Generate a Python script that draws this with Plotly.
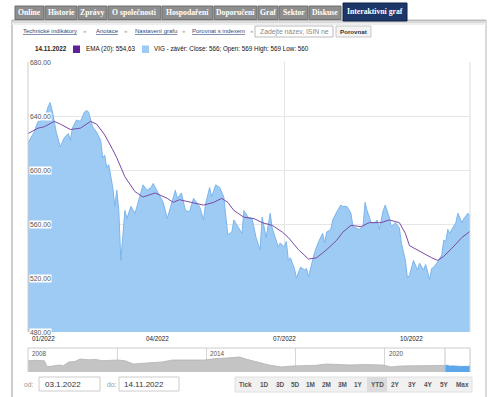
import plotly.graph_objects as go

# ---------------- data ----------------
close_dates = [
    "2022-01-03", "2022-01-06", "2022-01-10", "2022-01-13", "2022-01-17", "2022-01-18", "2022-01-19", "2022-01-21",
    "2022-01-25", "2022-01-27", "2022-01-31", "2022-02-01", "2022-02-02", "2022-02-04", "2022-02-08", "2022-02-10",
    "2022-02-11", "2022-02-14", "2022-02-16", "2022-02-18", "2022-02-22", "2022-02-23", "2022-02-24", "2022-02-25",
    "2022-02-28", "2022-03-02", "2022-03-03", "2022-03-04", "2022-03-07", "2022-03-08", "2022-03-10", "2022-03-11",
    "2022-03-15", "2022-03-17", "2022-03-18", "2022-03-23", "2022-03-25", "2022-03-29", "2022-03-30", "2022-04-01",
    "2022-04-05", "2022-04-06", "2022-04-08", "2022-04-12", "2022-04-13", "2022-04-14", "2022-04-19", "2022-04-21",
    "2022-04-25", "2022-04-27", "2022-04-29", "2022-05-03", "2022-05-04", "2022-05-06", "2022-05-09", "2022-05-11",
    "2022-05-12", "2022-05-16", "2022-05-18", "2022-05-20", "2022-05-23", "2022-05-24", "2022-05-26", "2022-05-27",
    "2022-05-31", "2022-06-02", "2022-06-03", "2022-06-07", "2022-06-09", "2022-06-13", "2022-06-15", "2022-06-16",
    "2022-06-20", "2022-06-21", "2022-06-22", "2022-06-23", "2022-06-27", "2022-06-28", "2022-06-29", "2022-07-01",
    "2022-07-04", "2022-07-07", "2022-07-08", "2022-07-12", "2022-07-13", "2022-07-15", "2022-07-19", "2022-07-20",
    "2022-07-21", "2022-07-25", "2022-07-26", "2022-07-28", "2022-08-01", "2022-08-02", "2022-08-03", "2022-08-05",
    "2022-08-08", "2022-08-10", "2022-08-12", "2022-08-15", "2022-08-17", "2022-08-19", "2022-08-22", "2022-08-25",
    "2022-08-29", "2022-08-30", "2022-08-31", "2022-09-02", "2022-09-06", "2022-09-07", "2022-09-08", "2022-09-12",
    "2022-09-13", "2022-09-15", "2022-09-16", "2022-09-20", "2022-09-22", "2022-09-23", "2022-09-27", "2022-09-29",
    "2022-09-30", "2022-10-04", "2022-10-06", "2022-10-07", "2022-10-11", "2022-10-12", "2022-10-14", "2022-10-17",
    "2022-10-18", "2022-10-20", "2022-10-24", "2022-10-25", "2022-10-26", "2022-10-27", "2022-10-31", "2022-11-01",
    "2022-11-03", "2022-11-04", "2022-11-08", "2022-11-09", "2022-11-11", "2022-11-14",
]
close_vals = [
    620, 628, 636, 637, 647, 650, 644, 628,
    617, 624, 627, 622, 631, 637, 636, 643,
    644, 643, 632, 628, 622, 609, 611, 602,
    604, 587, 573, 585, 570, 533, 570, 564,
    573, 568, 573, 589, 585, 587, 590, 584,
    578, 576, 564, 575, 580, 585, 579, 583,
    570, 569, 579, 575, 573, 563, 575, 587,
    580, 589, 587, 580, 563, 552, 554, 563,
    558, 553, 570, 565, 564, 550, 541, 565,
    550, 561, 568, 557, 547, 543, 546, 543,
    547, 533, 535, 527, 520, 528, 526, 527,
    521, 532, 539, 547, 553, 546, 554, 556,
    563, 569, 574, 573, 573, 568, 558, 556,
    558, 576, 570, 561, 561, 563, 556, 570,
    574, 565, 558, 561, 557, 546, 533, 520,
    522, 533, 526, 531, 526, 530, 519, 527,
    528, 532, 537, 548, 547, 556, 553, 556,
    561, 568, 561, 564, 568, 566,
]

ema_dates = [
    "2022-01-03", "2022-01-10", "2022-01-13", "2022-01-20", "2022-01-25", "2022-02-01", "2022-02-08", "2022-02-15",
    "2022-02-18", "2022-02-24", "2022-03-02", "2022-03-04", "2022-03-10", "2022-03-17", "2022-03-23", "2022-03-31",
    "2022-04-08", "2022-04-13", "2022-04-20", "2022-04-28", "2022-05-06", "2022-05-13", "2022-05-19", "2022-05-24",
    "2022-05-27", "2022-05-31", "2022-06-03", "2022-06-10", "2022-06-16", "2022-06-23", "2022-06-30", "2022-07-07",
    "2022-07-14", "2022-07-21", "2022-07-27", "2022-08-03", "2022-08-10", "2022-08-15", "2022-08-19", "2022-08-26",
    "2022-09-01", "2022-09-09", "2022-09-15", "2022-09-22", "2022-09-27", "2022-09-30", "2022-10-10", "2022-10-17",
    "2022-10-20", "2022-10-25", "2022-11-01", "2022-11-08", "2022-11-14",
]
ema_vals = [
    627, 631, 632, 636, 634, 630, 631, 636,
    634, 626, 615, 609, 595, 584, 580, 583,
    579, 576, 578, 576, 574, 576, 579, 576,
    570, 568, 565, 564, 561, 559, 554, 550,
    541, 534, 535, 541, 548, 554, 559, 558,
    561, 561, 563, 561, 553, 544, 539, 535,
    533, 536, 542, 550, 554.63,
]

nav_dates = [
    "2008-01-01", "2008-04-01", "2008-07-20", "2008-08-25", "2008-11-01", "2009-01-15", "2009-03-10", "2009-05-15",
    "2009-08-01", "2009-10-01", "2010-01-10", "2010-04-10", "2010-07-10", "2010-10-10", "2011-01-10", "2011-04-10",
    "2011-07-20", "2011-10-10", "2012-03-10", "2012-07-10", "2012-11-10", "2013-03-10", "2013-07-10", "2013-12-10",
    "2014-04-10", "2014-09-10", "2015-02-10", "2015-05-10", "2015-08-10", "2015-11-10", "2016-02-10", "2016-07-10",
    "2016-11-10", "2017-04-10", "2017-09-10", "2018-01-10", "2018-06-10", "2018-11-10", "2019-04-10", "2019-08-10",
    "2019-12-10", "2020-03-20", "2020-07-10", "2020-12-10", "2021-05-10", "2021-12-10", "2022-01-03",
]
nav_vals = [
    1060, 1100, 1060, 500, 560, 660, 600, 940,
    1000, 1220, 1150, 1180, 1060, 1100, 1130, 1050,
    750, 800, 850, 950, 1130, 1100, 1130, 1130,
    1250, 1320, 1410, 1200, 1030, 900, 660, 470,
    560, 600, 630, 750, 700, 660, 700, 650,
    660, 470, 560, 580, 590, 660, 620,
]

y_ticks = [480, 520, 560, 600, 640, 680]
x_tick_dates = ["2022-01-03", "2022-04-01", "2022-07-01", "2022-10-03"]
x_tick_text = ["01/2022", "04/2022", "07/2022", "10/2022"]
nav_grid_dates = ["2011-01-01", "2014-01-01", "2017-01-01", "2020-01-01"]
nav_label_dates = ["2008-01-01", "2014-01-01", "2020-01-01"]
nav_label_text = ["2008", "2014", "2020"]
holidays = ["2022-04-15", "2022-04-18", "2022-07-05", "2022-07-06", "2022-09-28", "2022-10-28"]

tab_names = ["Online", "Historie", "Zprávy", "O společnosti", "Hospodaření", "Doporučení",
             "Graf", "Sektor", "Diskuse", "Interaktivní graf"]
range_names = ["Tick", "1D", "3D", "5D", "1M", "2M", "3M", "1Y", "YTD", "2Y", "3Y", "4Y", "5Y", "Max"]

# ---------------- layout helpers (pixel -> paper) ----------------
W, H = 500, 397
def X(p):
    return p / W
def Y(p):
    return 1 - p / H

FONT = "Liberation Sans"
shapes = []
annotations = []

def rect(x0, y0, x1, y1, fill, line="rgba(0,0,0,0)", lw=1):
    shapes.append(dict(type="rect", xref="paper", yref="paper", x0=X(x0), x1=X(x1), y0=Y(y1), y1=Y(y0),
                       fillcolor=fill, line=dict(color=line, width=lw), layer="above"))

def hline(x0, x1, y, color, lw=1):
    shapes.append(dict(type="line", xref="paper", yref="paper", x0=X(x0), x1=X(x1), y0=Y(y), y1=Y(y),
                       line=dict(color=color, width=lw), layer="above"))

def vline(x, y0, y1, color, lw=1):
    shapes.append(dict(type="line", xref="paper", yref="paper", x0=X(x), x1=X(x), y0=Y(y0), y1=Y(y1),
                       line=dict(color=color, width=lw), layer="above"))

def text(x, y, s, size=6.5, color="#222", anchor="left", family=FONT):
    annotations.append(dict(xref="paper", yref="paper", x=X(x), y=Y(y), text=s, showarrow=False,
                            xanchor=anchor, yanchor="middle", font=dict(size=size, color=color, family=family)))

# ---------------- traces ----------------
fig = go.Figure()
fig.add_trace(go.Scatter(x=close_dates, y=close_vals, mode="lines", xaxis="x", yaxis="y",
                         line=dict(color="#7cb5ec", width=1), fill="tozeroy", fillcolor="#9dcbf4",
                         hoverinfo="skip"))
fig.add_trace(go.Scatter(x=ema_dates, y=ema_vals, mode="lines", xaxis="x", yaxis="y",
                         line=dict(color="#7b4aa6", width=1), hoverinfo="skip"))
fig.add_trace(go.Scatter(x=nav_dates, y=nav_vals, mode="lines", xaxis="x2", yaxis="y2",
                         line=dict(color="#b3b3b3", width=0.8), fill="tozeroy", fillcolor="#c4c4c4",
                         hoverinfo="skip"))
fig.add_trace(go.Scatter(x=close_dates, y=close_vals, mode="lines", xaxis="x2", yaxis="y2",
                         line=dict(color="#4f9de4", width=0.8), fill="tozeroy", fillcolor="#5ba7ea",
                         hoverinfo="skip"))

# ---------------- page decoration ----------------
# content box
vline(12, 20, 397, "#9a9a9a")
vline(486, 20, 397, "#b5b5b5")
rect(12, 19.5, 486, 21, "#bdbdbd")
rect(12, 21, 486, 23, "#dadada")
rect(12, 23, 486, 25, "#eeeeee")

# tabs
tab_edges = [(15, 44), (45, 77), (78, 107), (108, 161), (162, 213), (214, 257),
             (258, 278), (279, 308), (309, 341), (343, 407)]
for name, (a, b) in zip(tab_names, tab_edges):
    if name == "Interaktivní graf":
        rect(a, 3, b, 21, "#1d3768", "#0f2247")
        text((a + b) / 2, 12, "<b>" + name + "</b>", 7.7, "white", "center", "Liberation Serif")
    else:
        rect(a, 6, b, 19.5, "#8e8e8e", "#6e6e6e")
        text((a + b) / 2, 12.8, "<b>" + name + "</b>", 7.7, "white", "center", "Liberation Serif")

# link row
links = [("Technické indikátory", 21, 81), ("Anotace", 94, 122), ("Nastavení grafu", 133, 180),
         ("Porovnat s indexem", 190, 248)]
for s, x0, xr in links:
    text(x0, 31, "<u>" + s + "</u>", 6, "#2d4a7a")
    text(xr, 31, "»", 6, "#999")
rect(255, 26, 333, 37, "white", "#bbbbbb")
text(258, 31.5, "Zadejte název, ISIN ne", 6.8, "#8a8a8a")
rect(336, 26, 371, 37, "#f3f3f3", "#c8c8c8")
text(353.5, 31.5, "<b>Porovnat</b>", 6.2, "#333", "center")

# legend row
text(33, 49, "<b>14.11.2022</b>", 6.3, "#222")
rect(73, 45.5, 80, 53, "#5e2196")
text(84, 49, "EMA (20): 554,63", 6.3, "#111")
rect(142, 45.5, 149, 53, "#9dcbf4")
text(152, 49, "VIG - závěr: Close: 566; Open: 569 High: 569 Low: 560", 6.3, "#111")

# plot frame
vline(28, 62, 332, "#cccccc")
vline(470, 62, 332, "#dddddd")

# y labels
for v in y_ticks:
    annotations.append(dict(xref="paper", yref="y", x=X(29), y=v, text=f"{v:.2f}", showarrow=False,
                            xanchor="left", yanchor="middle", bgcolor="white", borderpad=0,
                            font=dict(size=6.8, color="#555", family=FONT)))
# x labels
for i, (d, s) in enumerate(zip(x_tick_dates, x_tick_text)):
    annotations.append(dict(xref="x", yref="paper", x=d, y=Y(338), text=s, showarrow=False,
                            xanchor="left" if i == 0 else "center", xshift=2 if i == 0 else 0,
                            yanchor="middle", font=dict(size=6.3, color="#222", family=FONT)))

# navigator
hline(28, 470, 348, "#cccccc")
vline(28, 348, 372, "#d0d0d0")
vline(445, 348, 372, "#c8c8c8")
vline(470, 348, 372, "#c8c8c8")
for d, s in zip(nav_label_dates, nav_label_text):
    annotations.append(dict(xref="x2", yref="paper", x=d, y=Y(353.5), text=s, showarrow=False,
                            xanchor="left", xshift=2, yanchor="middle",
                            font=dict(size=6.3, color="#555", family=FONT)))

# bottom controls
text(22, 384, "od:", 6.8, "#999")
rect(39, 377, 100, 391, "white", "#cccccc")
text(43, 384, "03.1.2022", 8, "#333")
text(105, 384, "do:", 6.8, "#999")
rect(119, 377, 179, 391, "white", "#cccccc")
text(122, 384, "14.11.2022", 8, "#333")

rect(235, 377, 472, 392, "#f1f1f1", "#e0e0e0")
btn_edges = [(235, 256), (256, 272), (272, 288), (288, 303), (303, 318), (318, 334), (334, 350),
             (350, 367), (367, 387), (387, 404), (404, 420), (420, 436), (436, 452), (452, 472)]
for name, (a, b) in zip(range_names, btn_edges):
    if name == "YTD":
        rect(a, 377, b, 392, "#dcdcdc")
    text((a + b) / 2, 384.5, "<b>" + name + "</b>", 6.4, "#555", "center")

# ---------------- layout ----------------
fig.update_layout(
    width=W, height=H, autosize=False,
    margin=dict(l=0, r=0, t=0, b=0, pad=0),
    paper_bgcolor="white", plot_bgcolor="white",
    showlegend=False,
    font=dict(family=FONT, size=7, color="#333"),
    xaxis=dict(domain=[X(28), X(470)], type="date", range=[close_dates[0], close_dates[-1]],
               rangebreaks=[dict(bounds=["sat", "mon"]), dict(values=holidays)],
               tickvals=["2022-07-01"], showticklabels=False, showgrid=True, gridcolor="#e3e3e3",
               gridwidth=1, zeroline=False, showline=False, ticks="", fixedrange=True),
    yaxis=dict(domain=[Y(332), Y(62)], range=[480, 680], tickvals=y_ticks, showticklabels=False,
               showgrid=True, gridcolor="#e6e6e6", gridwidth=1, zeroline=False, showline=False,
               ticks="", fixedrange=True),
    xaxis2=dict(domain=[X(28), X(470)], anchor="y2", type="date", range=["2008-01-01", "2022-11-14"],
                tickvals=nav_grid_dates, showticklabels=False, showgrid=True, gridcolor="#d6d6d6",
                zeroline=False, showline=False, ticks="", fixedrange=True),
    yaxis2=dict(domain=[Y(372), Y(348)], anchor="x2", range=[0, 2260], showgrid=False,
                showticklabels=False, zeroline=False, showline=False, ticks="", fixedrange=True),
    shapes=shapes,
    annotations=annotations,
)

fig.write_html("out.html", config={"displayModeBar": False},
               post_script="document.body.style.margin='0px';document.body.style.overflow='hidden';")
